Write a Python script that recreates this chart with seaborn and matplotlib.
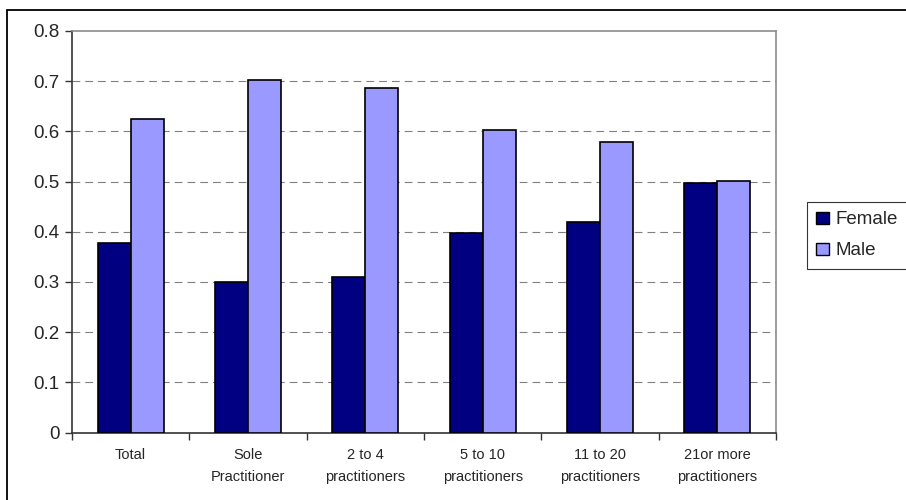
import matplotlib
matplotlib.use("Agg")
import matplotlib.pyplot as plt
from matplotlib.patches import Rectangle, Patch
import seaborn as sns
import pandas as pd
import numpy as np

categories = ["Total", "Sole\nPractitioner", "2 to 4\npractitioners",
              "5 to 10\npractitioners", "11 to 20\npractitioners",
              "21or more\npractitioners"]
female = [0.378, 0.299, 0.310, 0.397, 0.419, 0.498]
male = [0.624, 0.703, 0.687, 0.602, 0.579, 0.502]
series = ["Female", "Male"]
y_ticks = [0, 0.1, 0.2, 0.3, 0.4, 0.5, 0.6, 0.7, 0.8]

df = pd.DataFrame({
    "category": categories * 2,
    "share": female + male,
    "sex": ["Female"] * len(categories) + ["Male"] * len(categories),
})

sns.set_theme(style="white")
plt.rcParams["font.family"] = ["Liberation Sans", "DejaVu Sans"]

colors = {"Female": "#000080", "Male": "#9999FF"}

fig = plt.figure(figsize=(9.06, 5.0), dpi=100)
ax = fig.add_axes([72 / 906, 1 - 432.7 / 500, (776 - 72) / 906, (432.7 - 30.8) / 500])

sns.barplot(data=df, x="category", y="share", hue="sex", order=categories,
            hue_order=series, palette=colors, saturation=1, width=0.56, gap=0,
            edgecolor="black", linewidth=1.2, ax=ax, legend=False, zorder=3)

ax.set_ylim(0, 0.8)
ax.set_xlim(-0.5, len(categories) - 0.5)
ax.set_yticks(y_ticks)
ax.set_yticklabels(["0" if v == 0 else f"{v:.1f}" for v in y_ticks], fontsize=13.5)
ax.set_xlabel("")
ax.set_ylabel("")

# dashed horizontal gridlines
for v in y_ticks[1:-1]:
    ax.axhline(v, color="#808080", lw=0.8, ls=(0, (7, 4.5)), zorder=1)

# category labels centred, tick marks on the boundaries
ax.set_xticks(range(len(categories)))
ax.set_xticklabels(categories, fontsize=10.5, linespacing=1.75)
ax.tick_params(axis="x", which="major", length=0, pad=11)
ax.set_xticks(np.arange(-0.5, len(categories), 1.0), minor=True)
ax.tick_params(axis="x", which="minor", length=5, width=1, color="#333333",
               direction="out", bottom=True)
ax.tick_params(axis="y", length=5, width=1, color="#333333", direction="out",
               left=True, pad=4)

for side in ["top", "right"]:
    ax.spines[side].set_visible(True)
    ax.spines[side].set_color("#8c8c8c")
    ax.spines[side].set_linewidth(1.2)
for side in ["left", "bottom"]:
    ax.spines[side].set_color("#333333")
    ax.spines[side].set_linewidth(1.2)

handles = [Patch(facecolor=colors[s], edgecolor="black", linewidth=1.0, label=s)
           for s in series]
leg = fig.legend(handles=handles, loc="upper left",
                 bbox_to_anchor=(807 / 906, 1 - 202 / 500), fontsize=13.5,
                 frameon=True, fancybox=False, edgecolor="black",
                 handlelength=0.65, handleheight=0.65, handletextpad=0.35,
                 borderpad=0.5, labelspacing=0.75, borderaxespad=0)
leg.get_frame().set_linewidth(0.8)

# outer chart frame
fig.patches.append(Rectangle((7 / 906, -0.1), 1.2, 1.1 - 10 / 500,
                             transform=fig.transFigure, fill=False,
                             edgecolor="black", linewidth=1.3))

fig.savefig("out.png", dpi=100)
